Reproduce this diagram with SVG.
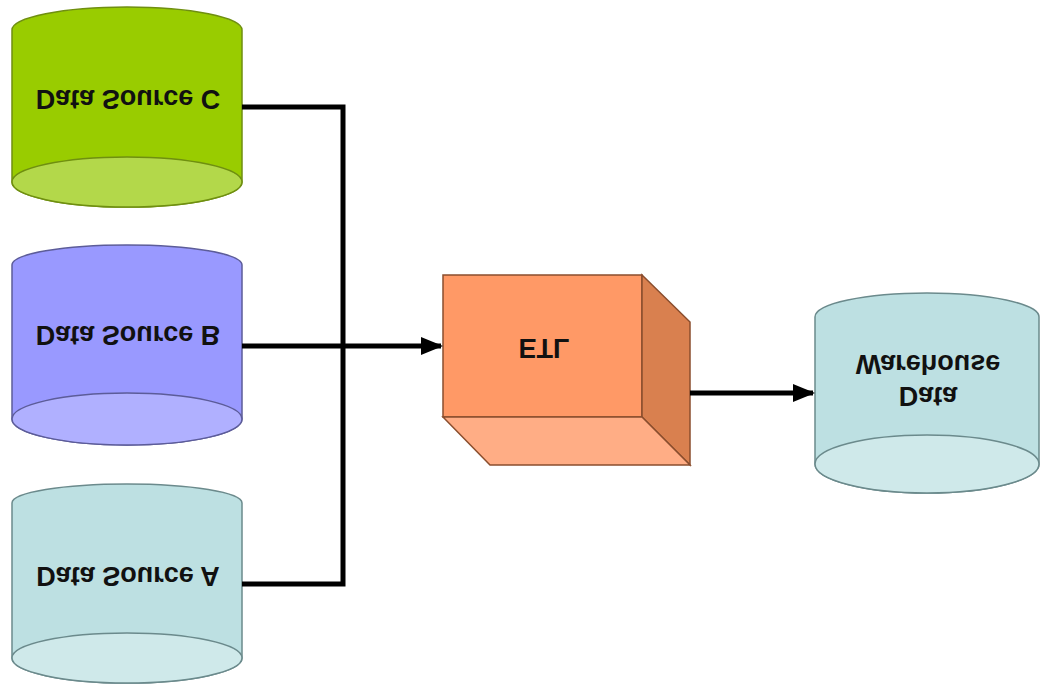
<svg xmlns="http://www.w3.org/2000/svg" width="1041" height="687" viewBox="0 0 1041 687">
<style>
.lbl{font-family:"Liberation Sans",Arial,sans-serif;font-weight:bold;font-size:27px;fill:#111;text-anchor:middle}
.conn{fill:none;stroke:#000;stroke-width:5}
.green .body{fill:#99cc00;stroke:#6f8f10;stroke-width:1.5}
.green .cap{fill:#b3d84a;stroke:#6f8f10;stroke-width:1.5}
.blue .body{fill:#9999ff;stroke:#5c5c99;stroke-width:1.5}
.blue .cap{fill:#b0b0ff;stroke:#5c5c99;stroke-width:1.5}
.teal .body{fill:#bde0e2;stroke:#6b8a8c;stroke-width:1.5}
.teal .cap{fill:#cfe9ea;stroke:#6b8a8c;stroke-width:1.5}
</style>
<defs>
<marker id="arr" markerUnits="userSpaceOnUse" markerWidth="22" markerHeight="18" refX="20" refY="9" orient="auto">
<path d="M0,0 L22,9 L0,18 Z" fill="#000"/>
</marker>
</defs>
<rect width="1041" height="687" fill="#fff"/>

<g id="source-c" class="green">
<path class="body" d="M12,30 A115,23 0 0 1 242,30 L242,182 A115,25 0 0 1 12,182 Z"/>
<ellipse class="cap" cx="127" cy="182" rx="115" ry="25"/>
<text class="lbl" transform="translate(128,100) scale(1,-1)" y="10">Data Source C</text>
</g>

<g id="source-b" class="blue">
<path class="body" d="M12,265 A115,20 0 0 1 242,265 L242,419 A115,26 0 0 1 12,419 Z"/>
<ellipse class="cap" cx="127" cy="419" rx="115" ry="26"/>
<text class="lbl" transform="translate(128,336) scale(1,-1)" y="10">Data Source B</text>
</g>

<g id="source-a" class="teal">
<path class="body" d="M12,503 A115,19 0 0 1 242,503 L242,658 A115,25 0 0 1 12,658 Z"/>
<ellipse class="cap" cx="127" cy="658" rx="115" ry="25"/>
<text class="lbl" transform="translate(128,577) scale(1,-1)" y="10">Data Source A</text>
</g>

<g id="etl">
<rect x="443" y="275" width="199" height="142" fill="#ff9966" stroke="#8a4e2e" stroke-width="1.5"/>
<path d="M642,275 L690,322 L690,465 L642,417 Z" fill="#d9804f" stroke="#8a4e2e" stroke-width="1.5"/>
<path d="M443,417 L642,417 L690,465 L490,465 Z" fill="#ffad85" stroke="#8a4e2e" stroke-width="1.5"/>
<text class="lbl" transform="translate(544,349) scale(1,-1)" y="10">ETL</text>
</g>

<g id="warehouse" class="teal">
<path class="body" d="M815,317 A112,24 0 0 1 1039,317 L1039,464 A112,29 0 0 1 815,464 Z"/>
<ellipse class="cap" cx="927" cy="464" rx="112" ry="29"/>
<text class="lbl" transform="translate(928,397) scale(1,-1)" y="10">Data</text>
<text class="lbl" transform="translate(928,365) scale(1,-1)" y="10">Warehouse</text>
</g>

<g id="connectors">
<path class="conn" d="M242,107 L343,107 L343,584 L242,584"/>
<path class="conn" d="M242,346 L441,346" marker-end="url(#arr)"/>
<path class="conn" d="M690,393 L813,393" marker-end="url(#arr)"/>
</g>
</svg>
